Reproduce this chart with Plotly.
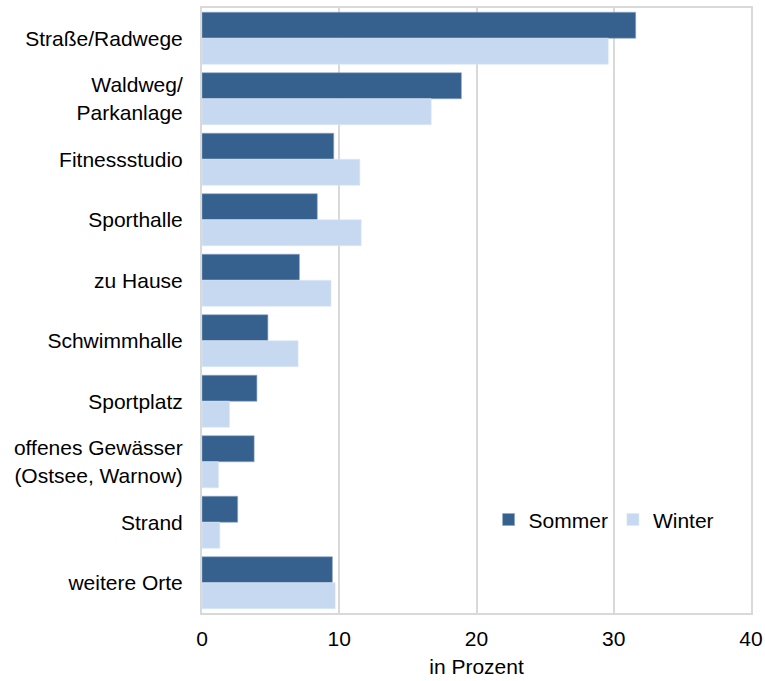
import plotly.graph_objects as go

categories = ["Straße/Radwege", "Waldweg/<br>Parkanlage", "Fitnessstudio", "Sporthalle",
              "zu Hause", "Schwimmhalle", "Sportplatz",
              "offenes Gewässer<br>(Ostsee, Warnow)", "Strand", "weitere Orte"]
sommer = [31.6, 18.9, 9.6, 8.4, 7.1, 4.8, 4.0, 3.8, 2.6, 9.5]
winter = [29.6, 16.7, 11.5, 11.6, 9.4, 7.0, 2.0, 1.2, 1.3, 9.7]
x_ticks = [0, 10, 20, 30, 40]

FONT = "Liberation Sans, Arial, sans-serif"

fig = go.Figure()
fig.add_trace(go.Bar(y=categories, x=sommer, name="Sommer", orientation="h",
                     marker=dict(color="#36618F", line=dict(color="#8FA8C8", width=0.6))))
fig.add_trace(go.Bar(y=categories, x=winter, name="Winter", orientation="h",
                     marker=dict(color="#C6D9F1", line=dict(color="#DCE7F5", width=0.6))))

fig.update_layout(
    width=765, height=681,
    margin=dict(l=202, r=14, t=8, b=68, autoexpand=False),
    paper_bgcolor="white", plot_bgcolor="white",
    font=dict(family=FONT, size=21, color="#000000"),
    barmode="group", bargap=0.14, bargroupgap=0,
    showlegend=True,
    legend=dict(orientation="h", x=0.522, y=0.154, xanchor="left", yanchor="middle",
                bgcolor="rgba(0,0,0,0)", font=dict(size=21), itemwidth=30,
                traceorder="normal"),
    xaxis=dict(range=[0, 40], tickvals=x_ticks, showgrid=True, gridcolor="#D9D9D9",
               gridwidth=2, zeroline=False, showline=True, linecolor="#D9D9D9",
               linewidth=2, mirror=True, ticks="", ticklabelstandoff=6,
               automargin=False,
               title=dict(text="in Prozent", standoff=10, font=dict(size=21))),
    yaxis=dict(autorange="reversed", showgrid=False, showline=True, linecolor="#D9D9D9",
               linewidth=2, mirror=True, ticks="", ticklabelstandoff=13,
               automargin=False),
)

fig.write_html("out.html", config={"displayModeBar": False},
               post_script="document.body.style.margin='0';document.body.style.overflow='hidden';")
